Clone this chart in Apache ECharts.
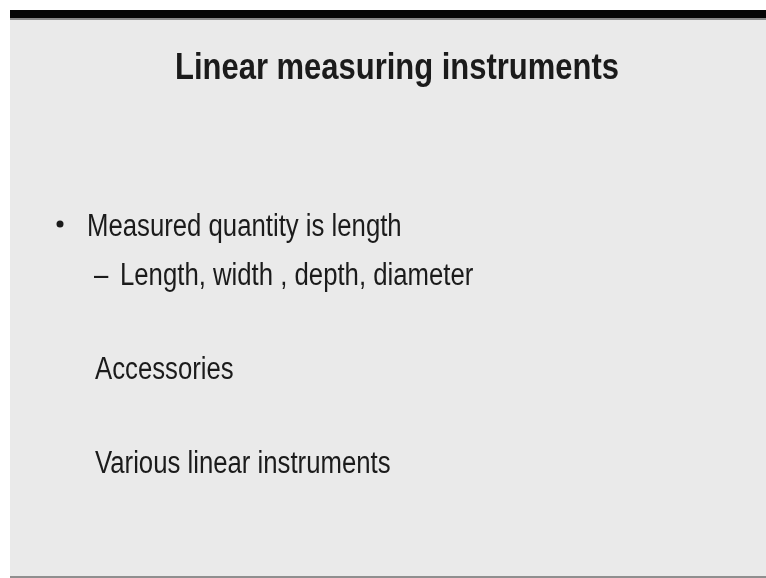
<!DOCTYPE html>
<html>
<head>
<meta charset="utf-8">
<script src="https://cdn.jsdelivr.net/npm/echarts@6/dist/echarts.min.js"></script>
<style>html,body{margin:0;padding:0;background:#fff}#c{width:766px;height:578px}</style>
</head>
<body>
<div id="c"></div>
<script>
var titleText = ['Linear measuring instruments'];
var bulletLines = ['Measured quantity is length'];
var subLines = ['Length, width , depth, diameter'];
var plainLines = ['Accessories', 'Various linear instruments'];

var chart = echarts.init(document.getElementById('c'), null, {renderer: 'canvas'});
var bodyFont = '31px "Liberation Sans", Arial, sans-serif';
var color = '#1b1b1b';
function txt(t, x, y, font, sx, align) {
  return {type: 'text', x: x, y: y, scaleX: sx, originX: 0, originY: 0,
    style: {text: t, x: 0, y: 0, font: font, fill: color, textAlign: align || 'left', textVerticalAlign: 'bottom'}};
}
var els = [
  {type: 'rect', shape: {x: 10, y: 10, width: 756, height: 8}, style: {fill: '#050505'}},
  {type: 'rect', shape: {x: 10, y: 18, width: 756, height: 2}, style: {fill: '#8a8a8a'}},
  {type: 'rect', shape: {x: 10, y: 20, width: 756, height: 556}, style: {fill: '#eaeaea'}},
  {type: 'rect', shape: {x: 10, y: 576, width: 756, height: 2}, style: {fill: '#8f8f8f'}},
  txt(titleText[0], 397, 87, 'bold 36px "Liberation Sans", Arial, sans-serif', 0.86, 'center'),
  {type: 'circle', shape: {cx: 60, cy: 224, r: 3.5}, style: {fill: color}},
  txt(bulletLines[0], 87, 243, bodyFont, 0.83),
  txt('\u2013', 94, 292, bodyFont, 0.83),
  txt(subLines[0], 120, 292, bodyFont, 0.83),
  txt(plainLines[0], 95, 386, bodyFont, 0.83),
  txt(plainLines[1], 95, 480, bodyFont, 0.83)
];
chart.setOption({backgroundColor: '#ffffff', animation: false, graphic: {elements: els}});
</script>
</body>
</html>
